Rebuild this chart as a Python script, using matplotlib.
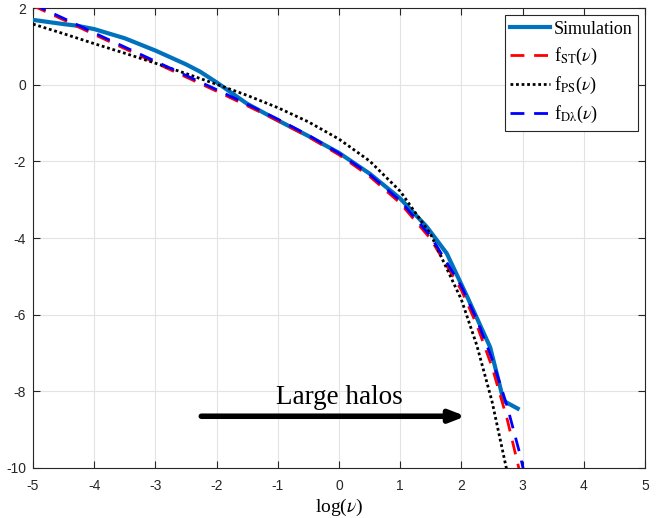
import matplotlib
matplotlib.use("Agg")
import matplotlib.pyplot as plt

# Simulation
sim_x = [-5.0, -4.5, -4.29, -4.0, -3.5, -3.0, -2.5, -2.27, -2.0, -1.5, -1.0, -0.5, 0.0, 0.5, 1.0, 1.43, 1.76, 2.1, 2.47, 2.69, 2.92]
sim_y = [1.69, 1.58, 1.54, 1.45, 1.21, 0.89, 0.53, 0.34, 0.06, -0.50, -0.93, -1.34, -1.78, -2.32, -2.97, -3.70, -4.40, -5.55, -6.85, -8.25, -8.45]

# Theory curves
th_x = [-5.0, -4.5, -4.0, -3.5, -3.0, -2.5, -2.0, -1.5, -1.0, -0.5, 0.0, 0.5, 1.0, 1.5, 2.0, 2.25, 2.5, 2.75, 2.95, 3.05]
st_y = [2.06, 1.69, 1.31, 0.94, 0.57, 0.20, -0.17, -0.55, -0.94, -1.36, -1.83, -2.39, -3.09, -4.03, -5.36, -6.26, -7.36, -8.74, -10.08, -10.8]
ps_y = [1.58, 1.33, 1.07, 0.82, 0.56, 0.29, 0.01, -0.28, -0.60, -0.97, -1.42, -1.99, -2.78, -3.91, -5.61, -6.79, -8.26, -10.12, -11.6, -12.5]
dl_y = [2.10, 1.73, 1.35, 0.98, 0.61, 0.24, -0.13, -0.51, -0.90, -1.32, -1.79, -2.34, -3.03, -3.96, -5.26, -6.12, -7.15, -8.40, -9.60, -10.3]

plt.rcParams['mathtext.fontset'] = 'stix'
plt.rcParams['axes.unicode_minus'] = False

fig = plt.figure(figsize=(6.72, 5.18), dpi=100)
ax = fig.add_axes([33/672, 1-468/518, (645-33)/672, (468-8)/518])

ax.plot(sim_x, sim_y, color='#0072BD', lw=3.0, label='Simulation', zorder=3)
ax.plot(th_x, st_y, color='red', lw=2.0, ls=(0, (5, 3.5)), label=r'f$_{\rm ST}$($\nu$)', zorder=4)
ax.plot(th_x, ps_y, color='black', lw=2.0, ls=(0, (1, 1)), label=r'f$_{\rm PS}$($\nu$)', zorder=4)
ax.plot(th_x, dl_y, color='blue', lw=2.0, ls=(0, (5, 3.5)), label=r'f$_{\rm D\lambda}$($\nu$)', zorder=4)

ax.set_xlim(-5, 5)
ax.set_ylim(-10, 2)
ax.set_xticks(range(-5, 6))
ax.set_yticks(range(-10, 3, 2))
ax.grid(True, color='#e3e3e3', lw=0.8)
ax.set_axisbelow(True)
ax.tick_params(direction='in', top=True, right=True, length=5, width=0.8,
               labelsize=10, colors='#262626', labelcolor='#262626')
ax.tick_params(axis='x', pad=8)
ax.tick_params(axis='y', pad=5)
for lab in ax.get_xticklabels() + ax.get_yticklabels():
    lab.set_fontfamily('Liberation Sans')
for s in ax.spines.values():
    s.set_color('#262626')
    s.set_linewidth(0.8)

ax.set_xlabel(r'log($\nu$)', fontsize=14, fontfamily='Liberation Serif', labelpad=3)

leg = ax.legend(loc='upper right', prop={'family': 'Liberation Serif', 'size': 13},
                fancybox=False, edgecolor='#262626', framealpha=1, handlelength=2.2,
                handletextpad=0.2, borderaxespad=0.4, labelspacing=0.45, borderpad=0.3)
leg.get_frame().set_linewidth(0.8)

ax.annotate('', xy=(2.07, -8.65), xytext=(-2.25, -8.65),
            arrowprops=dict(arrowstyle='-|>,head_length=0.9,head_width=0.35', lw=4, color='black',
                            shrinkA=0, shrinkB=0))
ax.text(0.0, -8.15, 'Large halos', ha='center', va='center', fontsize=19.5,
        fontfamily='Liberation Serif')

fig.savefig('out.png', dpi=100)
